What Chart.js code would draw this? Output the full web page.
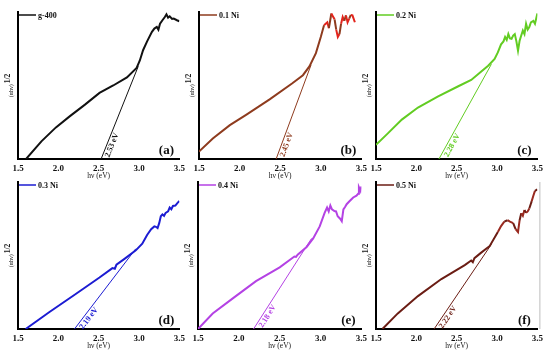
<!DOCTYPE html>
<html>
<head>
<meta charset="utf-8">
<script src="https://cdn.jsdelivr.net/npm/chart.js@4.4.1/dist/chart.umd.min.js"></script>
<style>
  html, body { margin: 0; padding: 0; background: #fff; }
  #wrap { position: relative; width: 550px; height: 352px; overflow: hidden; }
  #wrap canvas { position: absolute; }
</style>
</head>
<body>
<div id="wrap"></div>
<script>
// Tauc plots, (αhν)^1/2 in arbitrary units (0-100 of the plot height) vs hν in eV
const xTicks = [1.5, 2.0, 2.5, 3.0, 3.5];

const aX = [1.60, 1.79, 1.97, 2.14, 2.33, 2.51, 2.68, 2.85, 2.97, 3.01, 3.05, 3.10, 3.16, 3.19, 3.22, 3.24, 3.26, 3.29, 3.32, 3.34, 3.36, 3.38, 3.41, 3.43, 3.47, 3.50];
const aY = [0, 12, 21.5, 29, 37, 45, 50, 55.5, 62, 67, 74, 80, 86.5, 88.7, 89.8, 88, 92, 94.4, 96.6, 98.4, 96.2, 97.1, 95.3, 95.5, 94.4, 93.7];
const aTanX = [2.53, 2.99];
const aTanY = [0, 63];

const bX = [1.50, 1.67, 1.88, 2.08, 2.37, 2.65, 2.78, 2.86, 2.94, 3.00, 3.04, 3.08, 3.10, 3.13, 3.15, 3.17, 3.19, 3.21, 3.23, 3.25, 3.27, 3.29, 3.31, 3.33, 3.35, 3.37, 3.39, 3.42];
const bY = [5, 14, 23, 30, 40.6, 51.5, 57, 63, 72, 83, 91, 93, 89, 99, 97, 95, 88, 83, 85, 92, 96.6, 94, 97.7, 93, 95.5, 98, 97.7, 93];
const bTanX = [2.45, 2.88];
const bTanY = [0, 64];

const cX = [1.50, 1.65, 1.82, 2.02, 2.27, 2.52, 2.68, 2.79, 2.89, 2.97, 3.01, 3.05, 3.08, 3.10, 3.12, 3.14, 3.16, 3.18, 3.20, 3.22, 3.24, 3.26, 3.28, 3.30, 3.32, 3.34, 3.36, 3.38, 3.40, 3.42, 3.45, 3.47, 3.50];
const cY = [9.6, 17.6, 26.8, 35, 42.6, 49.5, 53.8, 58.8, 63.4, 68, 72.5, 78, 80, 83, 81, 85, 82, 81.7, 84, 85, 80, 73.7, 80.5, 84, 87.4, 85, 92, 88, 89.7, 93, 94, 92, 99];
const cTanX = [2.28, 2.93];
const cTanY = [0, 64.5];

const dX = [1.595, 1.89, 2.22, 2.51, 2.67, 2.70, 2.72, 2.82, 2.96, 3.04, 3.10, 3.15, 3.19, 3.21, 3.23, 3.25, 3.27, 3.29, 3.31, 3.33, 3.36, 3.38, 3.40, 3.42, 3.45, 3.48, 3.50];
const dY = [0, 11.6, 24, 35, 41.4, 41, 43.7, 47.7, 53.5, 58, 64, 67.9, 69.8, 69.5, 68.6, 72, 76.7, 78, 77, 79, 80, 82.6, 81.5, 83.7, 84, 86, 87];
const dTanX = [2.20, 2.96];
const dTanY = [0, 54.6];

const eX = [1.50, 1.68, 1.93, 2.21, 2.50, 2.68, 2.70, 2.72, 2.83, 2.91, 2.99, 3.05, 3.08, 3.10, 3.12, 3.14, 3.17, 3.19, 3.21, 3.24, 3.26, 3.28, 3.30, 3.32, 3.36, 3.40, 3.44, 3.46, 3.47, 3.49, 3.50];
const eY = [0, 10.5, 21, 32.6, 41.9, 49.3, 49, 50.5, 55.8, 61.6, 69.8, 79, 82.6, 80, 84, 81.4, 80.2, 80, 76.7, 75, 73.3, 81.4, 83, 84.9, 87.2, 89.5, 90.7, 92, 96.5, 94, 97];
const eTanX = [2.18, 2.89];
const eTanY = [0, 61.6];

const fX = [1.58, 1.77, 2.02, 2.31, 2.60, 2.68, 2.70, 2.72, 2.80, 2.91, 3.01, 3.05, 3.09, 3.13, 3.16, 3.20, 3.23, 3.26, 3.28, 3.30, 3.32, 3.34, 3.36, 3.38, 3.40, 3.43, 3.45, 3.47, 3.50];
const fY = [0, 10.6, 22.4, 34, 43.5, 46.6, 45.5, 48.2, 51.8, 56.5, 66, 70, 73, 74, 73, 72, 68, 66, 74, 78.8, 77, 81, 79, 80, 82, 87, 90.6, 94, 95];
const fTanX = [2.22, 2.93];
const fTanY = [0, 57.6];

const names = ['g-400', '0.1 Ni', '0.2 Ni', '0.3 Ni', '0.4 Ni', '0.5 Ni'];
const gapLabels = ['2.53 eV', '2.45 eV', '2.28 eV', '2.19 eV', '2.18 eV', '2.22 eV'];
const letters = ['(a)', '(b)', '(c)', '(d)', '(e)', '(f)'];

const SERIF = "'Liberation Serif', 'DejaVu Serif', serif";

// plot-area boxes on the page, one per panel
const panels = [
  { xs: aX, ys: aY, tx: aTanX, ty: aTanY, color: '#111111', noise: null,      frame: false, box: [18, 12, 180, 159] },
  { xs: bX, ys: bY, tx: bTanX, ty: bTanY, color: '#8e3b1e', noise: '#e3241c', frame: false, box: [199, 12, 362, 159] },
  { xs: cX, ys: cY, tx: cTanX, ty: cTanY, color: '#62cc22', noise: null,      frame: false, box: [376, 12, 538, 159] },
  { xs: dX, ys: dY, tx: dTanX, ty: dTanY, color: '#1c1cd2', noise: null,      frame: false, box: [18, 182, 180, 329] },
  { xs: eX, ys: eY, tx: eTanX, ty: eTanY, color: '#b442e4', noise: null,      frame: false, box: [198, 182, 362, 329] },
  { xs: fX, ys: fY, tx: fTanX, ty: fTanY, color: '#6b1d14', noise: '#9a2a20', frame: true,  box: [376, 182, 538, 329] }
];

const PAD_L = 22, PAD_T = 4, PAD_R = 9, AX_H = 22;

const decorPlugin = {
  id: 'decor',
  beforeDatasetsDraw(chart) {
    const o = chart.options.plugins.decor;
    if (!o.frame) return;
    const { ctx, chartArea: ca } = chart;
    ctx.save();
    ctx.strokeStyle = '#bdbdbd';
    ctx.lineWidth = 1;
    ctx.beginPath();
    ctx.moveTo(ca.right + 2.5, ca.top);
    ctx.lineTo(ca.right + 2.5, ca.bottom);
    ctx.stroke();
    ctx.restore();
  },
  afterDraw(chart) {
    const o = chart.options.plugins.decor;
    const { ctx, chartArea: ca } = chart;
    const xs = chart.scales.x, ys = chart.scales.y;
    ctx.save();

    // legend: short line + name
    ctx.strokeStyle = o.color;
    ctx.lineWidth = 1.5;
    ctx.beginPath();
    ctx.moveTo(ca.left + 1, ca.top + 3);
    ctx.lineTo(ca.left + 18, ca.top + 3);
    ctx.stroke();
    ctx.fillStyle = '#111';
    ctx.font = 'bold 8px ' + SERIF;
    ctx.textBaseline = 'middle';
    ctx.textAlign = 'left';
    ctx.fillText(o.name, ca.left + 20, ca.top + 3.5);

    // y title (αhν)^1/2, rotated
    ctx.translate(ca.left - 8, (ca.top + ca.bottom) / 2);
    ctx.rotate(-Math.PI / 2);
    ctx.font = '6px ' + SERIF;
    const base = '(αhν)';
    const w1 = ctx.measureText(base).width;
    ctx.font = 'bold 7.5px ' + SERIF;
    const w2 = ctx.measureText('1/2').width;
    const start = -(w1 + w2 + 1) / 2;
    ctx.font = '6px ' + SERIF;
    ctx.fillText(base, start, 1);
    ctx.font = 'bold 7.5px ' + SERIF;
    ctx.fillText('1/2', start + w1 + 1, -2);
    ctx.setTransform(1, 0, 0, 1, 0, 0);

    // band gap label along the tangent
    const x0 = xs.getPixelForValue(o.tx[0]), y0 = ys.getPixelForValue(o.ty[0]);
    const x1 = xs.getPixelForValue(o.tx[1]), y1 = ys.getPixelForValue(o.ty[1]);
    const len = Math.hypot(x1 - x0, y1 - y0);
    const ux = (x1 - x0) / len, uy = (y1 - y0) / len;
    const px = x0 + ux * len * 0.17 + (-uy) * 5;
    const py = y0 + uy * len * 0.17 + ux * 5;
    ctx.translate(px, py);
    ctx.rotate(Math.atan2(uy, ux));
    ctx.fillStyle = o.color;
    ctx.font = 'bold 8px ' + SERIF;
    ctx.textAlign = 'center';
    ctx.textBaseline = 'middle';
    ctx.fillText(o.gap, 0, 0);
    ctx.setTransform(1, 0, 0, 1, 0, 0);

    // panel letter
    ctx.fillStyle = '#111';
    ctx.font = 'bold 13px ' + SERIF;
    ctx.textAlign = 'center';
    ctx.textBaseline = 'middle';
    ctx.fillText(o.letter, ca.right - 13, ca.bottom - 8);
    ctx.restore();
  }
};

const wrap = document.getElementById('wrap');

panels.forEach((p, i) => {
  const [L, T, R, B] = p.box;
  const canvas = document.createElement('canvas');
  const w = (R - L) + PAD_L + PAD_R;
  const h = (B - T) + PAD_T + AX_H;
  canvas.width = w;
  canvas.height = h;
  canvas.style.width = w + 'px';
  canvas.style.height = h + 'px';
  canvas.style.left = (L - PAD_L) + 'px';
  canvas.style.top = (T - PAD_T) + 'px';
  wrap.appendChild(canvas);

  new Chart(canvas.getContext('2d'), {
    type: 'line',
    data: {
      datasets: [
        {
          data: p.xs.map((x, k) => ({ x: x, y: p.ys[k] })),
          borderColor: p.color,
          borderWidth: 2,
          pointRadius: 0,
          tension: 0,
          // noisy high-energy part drawn partly in a second shade
          segment: p.noise ? {
            borderColor: c => (c.p0.parsed.x >= 3.0 && (c.p0DataIndex % 3 !== 0)) ? p.noise : p.color
          } : undefined
        },
        {
          data: p.tx.map((x, k) => ({ x: x, y: p.ty[k] })),
          borderColor: p.color,
          borderWidth: 1,
          pointRadius: 0
        }
      ]
    },
    options: {
      responsive: false,
      animation: false,
      devicePixelRatio: 1,
      layout: { padding: { left: PAD_L - 20, top: PAD_T, right: PAD_R, bottom: 0 } },
      plugins: {
        legend: { display: false },
        tooltip: { enabled: false },
        decor: { color: p.color, name: names[i], gap: gapLabels[i], letter: letters[i], tx: p.tx, ty: p.ty, frame: p.frame }
      },
      scales: {
        x: {
          type: 'linear',
          min: 1.5,
          max: 3.5,
          afterBuildTicks: s => { s.ticks = xTicks.map(v => ({ value: v })); },
          afterFit: s => { s.height = AX_H; },
          grid: { display: false, drawTicks: false },
          border: { display: true, color: '#000', width: 2 },
          ticks: {
            padding: 4,
            maxRotation: 0,
            color: '#111',
            font: { family: SERIF, size: 9, weight: 'bold' },
            callback: v => v.toFixed(1)
          },
          title: {
            display: true,
            text: 'hν (eV)',
            color: '#111',
            padding: { top: 0, bottom: 0 },
            font: { family: SERIF, size: 7.5 }
          }
        },
        y: {
          min: 0,
          max: 100,
          afterFit: s => { s.width = 20; },
          grid: { display: false, drawTicks: false },
          border: { display: true, color: '#000', width: 2 },
          ticks: { display: false }
        }
      }
    },
    plugins: [decorPlugin]
  });
});
</script>
</body>
</html>
